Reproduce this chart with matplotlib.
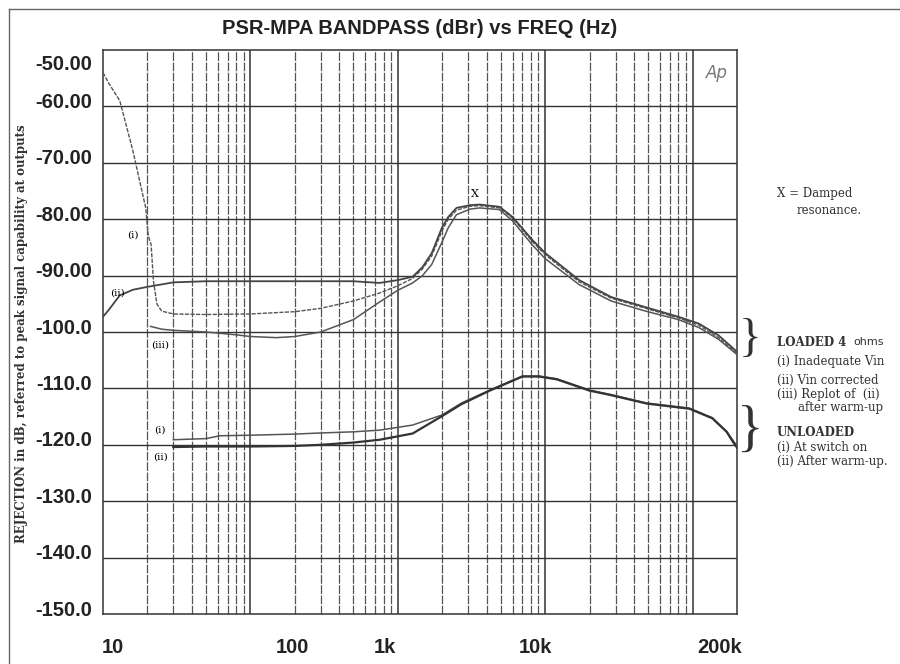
import matplotlib.pyplot as plt
import matplotlib.transforms as mtransforms

# Curvas (frequência em Hz, rejeição em dB)
freq_carga_i = [10, 11, 13, 16, 18, 19.5, 20.2, 20.6, 21.2, 22, 23.2, 25, 30, 50, 100, 200, 300, 500,
                750, 1000, 1260, 1470, 1700, 2000, 2200, 2500, 3100, 3600, 4900, 6000, 8200, 10000,
                17000, 28000, 48000, 80000, 110000, 150000, 200000]
db_carga_i = [-54, -56, -59, -68, -74, -78, -82.5, -83.5, -84.5, -91, -95, -96.3, -96.8, -96.9, -96.8,
              -96.4, -95.8, -94.5, -93.1, -91.8, -90.5, -88.8, -86.5, -82, -80, -78.4, -77.7, -77.6,
              -78, -79.8, -84, -86.3, -91.1, -94, -95.8, -97.5, -98.8, -101, -103.8]

freq_carga_ii = [10, 11, 13, 16, 20, 30, 50, 100, 200, 300, 500, 750, 1000, 1260, 1470, 1700, 2000,
                 2200, 2500, 3100, 3600, 4900, 6000, 8200, 10000, 17000, 28000, 48000, 80000, 110000,
                 150000, 200000]
db_carga_ii = [-97.3, -96, -93.5, -92.5, -92, -91.2, -91, -91, -91, -91, -91, -91.3, -90.8, -90.2,
               -88.5, -86, -81.4, -79.6, -78, -77.5, -77.4, -77.8, -79.6, -83.7, -86, -90.8, -93.8,
               -95.6, -97.3, -98.5, -100.6, -103.5]

freq_carga_iii = [21, 25, 30, 50, 80, 100, 150, 200, 300, 500, 750, 1000, 1260, 1470, 1700, 2000,
                  2200, 2500, 3100, 3600, 4900, 6000, 8200, 10000, 17000, 28000, 48000, 80000,
                  110000, 150000, 200000]
db_carga_iii = [-99, -99.5, -99.7, -100, -100.5, -100.8, -101, -100.8, -100, -97.8, -94.7, -92.6,
                -91.3, -90, -88, -84, -81.5, -79.2, -78.2, -78, -78.3, -80.3, -84.6, -87, -91.6,
                -94.5, -96.3, -97.8, -99.2, -101.3, -104]

freq_vazio_i = [30, 50, 62, 100, 200, 300, 500, 755, 1260, 2000, 2700, 4200, 7000, 9100, 12000,
                20000, 28000, 49000, 95000, 136000, 170000, 189000, 200000]
db_vazio_i = [-119.1, -118.9, -118.4, -118.3, -118.1, -117.9, -117.7, -117.4, -116.5, -114.7,
              -112.6, -110.3, -107.8, -107.8, -108.3, -110.3, -111.1, -112.6, -113.5, -115.2,
              -117.6, -119.3, -120.2]

freq_vazio_ii = [30, 50, 100, 200, 300, 500, 755, 1260, 2000, 2700, 4200, 7000, 9100, 12000,
                 20000, 28000, 49000, 95000, 136000, 170000, 189000, 200000]
db_vazio_ii = [-120.4, -120.3, -120.3, -120.2, -120, -119.6, -119.1, -118, -114.9, -112.8,
               -110.4, -107.9, -107.9, -108.4, -110.4, -111.2, -112.7, -113.6, -115.3, -117.7,
               -119.6, -120.5]

rotulos_x = ['10', '100', '1k', '10k', '200k']
ticks_x = [10, 100, 1000, 10000, 200000]
ticks_y = [-50, -60, -70, -80, -90, -100, -110, -120, -130, -140, -150]
rotulos_y = ['-50.00', '-60.00', '-70.00', '-80.00', '-90.00', '-100.0', '-110.0', '-120.0',
             '-130.0', '-140.0', '-150.0']

fig = plt.figure(figsize=(9, 6.64), dpi=100)
ax = fig.add_axes([103 / 900, 1 - 614 / 664, 634 / 900, 564 / 664])
ax.set_xscale('log')
ax.set_xlim(10, 200000)
ax.set_ylim(-150, -50)

# Grade: linhas verticais em cada 1..9 da década, horizontais a cada 10 dB
for dec in [10, 100, 1000, 10000, 100000]:
    for m in range(1, 10):
        f = dec * m
        if f <= 10 or f >= 200000:
            continue
        if m == 1:
            ax.axvline(f, color='#333333', linewidth=1.1, zorder=1)
        else:
            ax.axvline(f, color='#555555', linewidth=0.9, dashes=(7, 1.2), zorder=1)
for y in ticks_y[1:-1]:
    ax.axhline(y, color='#333333', linewidth=1.0, zorder=1)

for s in ax.spines.values():
    s.set_color('#333333')
    s.set_linewidth(1.1)

# Curvas
ax.plot(freq_carga_i, db_carga_i, color='#555555', linewidth=1.0, dashes=(3, 1), zorder=3)
ax.plot(freq_carga_ii, db_carga_ii, color='#444444', linewidth=1.3, zorder=3)
ax.plot(freq_carga_iii, db_carga_iii, color='#555555', linewidth=1.1, zorder=3)
ax.plot(freq_vazio_i, db_vazio_i, color='#555555', linewidth=1.1, zorder=3)
ax.plot(freq_vazio_ii, db_vazio_ii, color='#333333', linewidth=1.6, zorder=3)

# Rótulos junto às curvas
serif = 'DejaVu Serif'
ax.text(16, -82.8, '(i)', fontsize=7.5, family=serif, ha='center', va='center')
ax.text(12.6, -93.1, '(ii)', fontsize=7.5, family=serif, ha='center', va='center')
ax.text(24.4, -102.3, '(iii)', fontsize=7.5, family=serif, ha='center', va='center')
ax.text(24.4, -117.4, '(i)', fontsize=7.5, family=serif, ha='center', va='center')
ax.text(24.4, -122.2, '(ii)', fontsize=7.5, family=serif, ha='center', va='center')
ax.text(3330, -75.5, 'X', fontsize=8, family=serif, ha='center', va='center')
ax.text(0.985, 0.975, 'Ap', transform=ax.transAxes, fontsize=12, style='italic',
        color='#777777', ha='right', va='top', family='DejaVu Sans')

# Eixos
ax.set_xticks(ticks_x)
ax.set_xticklabels(rotulos_x)
ax.set_xticks([], minor=True)
ax.set_yticks(ticks_y)
ax.set_yticklabels(rotulos_y)
ax.tick_params(length=0)
ax.tick_params(axis='x', pad=17)
ax.tick_params(axis='y', pad=8)
for lab in ax.get_xticklabels() + ax.get_yticklabels():
    lab.set_fontsize(14.5)
    lab.set_fontweight('bold')
    lab.set_family('Liberation Sans')
    lab.set_color('#222222')

# deslocamentos dos rótulos como no original
desl_x = [10, 42, -13, -10, -17]
for lab, dx in zip(ax.get_xticklabels(), desl_x):
    lab.set_transform(lab.get_transform() + mtransforms.ScaledTranslation(dx / 100, 0, fig.dpi_scale_trans))
for i, lab in enumerate(ax.get_yticklabels()):
    dy = -13 if i == 0 else 6
    lab.set_transform(lab.get_transform() + mtransforms.ScaledTranslation(0, dy / 100, fig.dpi_scale_trans))

fig.text(22 / 900, 1 - 334 / 664, 'REJECTION in dB, referred to peak signal capability at outputs',
         fontsize=8.5, family=serif, fontweight='bold', color='#333333', rotation=90,
         ha='center', va='center')

fig.text(420 / 900, 1 - 28 / 664, 'PSR-MPA BANDPASS (dBr) vs FREQ (Hz)', fontsize=14.5,
         fontweight='bold', family='Liberation Sans', ha='center', va='center', color='#222222')

# Anotações à direita
fs = 8.5
cor = '#333333'
fig.text(777 / 900, 1 - 193 / 664, 'X = Damped', fontsize=fs, family=serif, va='center', color=cor)
fig.text(797 / 900, 1 - 211 / 664, 'resonance.', fontsize=fs, family=serif, va='center', color=cor)
fig.text(777 / 900, 1 - 342 / 664, 'LOADED 4', fontsize=fs, family=serif, fontweight='bold',
         va='center', color=cor)
fig.text(853 / 900, 1 - 342 / 664, 'ohms', fontsize=fs - 0.5, family='DejaVu Sans', va='center', color=cor)
fig.text(777 / 900, 1 - 361 / 664, '(i) Inadequate Vin', fontsize=fs, family=serif, va='center', color=cor)
fig.text(777 / 900, 1 - 380 / 664, '(ii) Vin corrected', fontsize=fs, family=serif, va='center', color=cor)
fig.text(777 / 900, 1 - 394 / 664, '(iii) Replot of  (ii)', fontsize=fs, family=serif, va='center', color=cor)
fig.text(798 / 900, 1 - 408 / 664, 'after warm-up', fontsize=fs, family=serif, va='center', color=cor)
fig.text(777 / 900, 1 - 432 / 664, 'UNLOADED', fontsize=fs, family=serif, fontweight='bold',
         va='center', color=cor)
fig.text(777 / 900, 1 - 447 / 664, '(i) At switch on', fontsize=fs, family=serif, va='center', color=cor)
fig.text(777 / 900, 1 - 462 / 664, '(ii) After warm-up.', fontsize=fs, family=serif, va='center', color=cor)
fig.text(750 / 900, 1 - 340 / 664, '}', fontsize=34, family='Liberation Serif', va='center',
         ha='center', color='#333333')
fig.text(750 / 900, 1 - 432 / 664, '}', fontsize=40, family='Liberation Serif', va='center',
         ha='center', color='#333333')

# Moldura da página
fig.add_artist(plt.Line2D([9 / 900, 9 / 900], [0, 1 - 9 / 664], transform=fig.transFigure,
                          color='#666666', linewidth=1.0))
fig.add_artist(plt.Line2D([9 / 900, 1], [1 - 9 / 664, 1 - 9 / 664], transform=fig.transFigure,
                          color='#666666', linewidth=1.0))

fig.savefig('out.png', dpi=100)
